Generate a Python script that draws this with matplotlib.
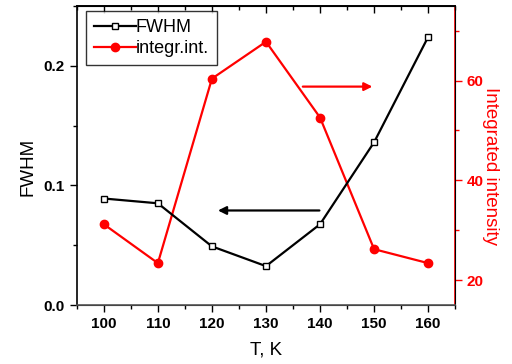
import matplotlib.pyplot as plt
from matplotlib.ticker import MultipleLocator

plt.rcParams['font.family'] = ['Liberation Sans', 'DejaVu Sans']

temps = [100, 110, 120, 130, 140, 150, 160]
fwhm = [0.089, 0.085, 0.049, 0.0325, 0.0675, 0.136, 0.224]
intens = [31.2, 23.4, 60.4, 67.8, 52.6, 26.2, 23.4]

fig = plt.figure(figsize=(5.12, 3.64), dpi=100)
ax = fig.add_axes([0.150, 0.162, 0.739, 0.822])
ax2 = ax.twinx()

l1, = ax.plot(temps, fwhm, color='black', lw=1.6, marker='s', ms=5,
              mfc='white', mec='black', mew=1, label='FWHM', zorder=3)
l2, = ax2.plot(temps, intens, color='red', lw=1.6, marker='o', ms=6,
               mfc='red', mec='red', label='integr.int.')

ax.set_xlim(95, 165)
ax.set_ylim(0, 0.25)
ax2.set_ylim(15, 75)

ax.xaxis.set_major_locator(MultipleLocator(10))
ax.xaxis.set_minor_locator(MultipleLocator(5))
ax.yaxis.set_major_locator(MultipleLocator(0.1))
ax.yaxis.set_minor_locator(MultipleLocator(0.05))
ax2.yaxis.set_major_locator(MultipleLocator(20))
ax2.yaxis.set_minor_locator(MultipleLocator(10))

ax.tick_params(axis='both', which='major', length=5, width=1, labelsize=11)
ax.tick_params(axis='both', which='minor', length=3, width=1)
top = ax.secondary_xaxis('top')
top.xaxis.set_major_locator(MultipleLocator(10))
top.xaxis.set_minor_locator(MultipleLocator(5))
top.tick_params(which='major', direction='in', length=5, width=1, labeltop=False)
top.tick_params(which='minor', direction='in', length=3, width=1)
top.spines['top'].set_linewidth(1.2)
ax.yaxis.set_major_formatter(plt.FormatStrFormatter('%.1f'))

for lab in ax.get_xticklabels() + ax.get_yticklabels():
    lab.set_fontweight('bold')

ax2.tick_params(axis='y', which='major', length=5, width=1, colors='red', labelsize=11)
ax2.tick_params(axis='y', which='minor', length=3, width=1, colors='red')
for lab in ax2.get_yticklabels():
    lab.set_fontweight('bold')
ax2.spines['right'].set_color('red')
ax2.spines['right'].set_linewidth(1.2)
ax2.spines['left'].set_visible(False)

for s in ['left', 'bottom', 'top']:
    ax.spines[s].set_linewidth(1.2)
ax.spines['bottom'].set_color('#555555')

ax.set_xlabel('T, K', fontsize=13.5, labelpad=8)
ax.set_ylabel('FWHM', fontsize=13.5, labelpad=5)
ax2.set_ylabel('Integrated intensity', fontsize=13.5, color='red',
               rotation=270, labelpad=11)
ax.yaxis.label.set_y(0.46)
ax2.yaxis.label.set_y(0.465)

# arrows pointing toward the axis each curve belongs to
ax.annotate('', xy=(120.6, 0.079), xytext=(140.4, 0.079),
            arrowprops=dict(arrowstyle='-|>', color='black', lw=1.6,
                            mutation_scale=12))
ax2.annotate('', xy=(150.2, 58.8), xytext=(136.3, 58.8),
             arrowprops=dict(arrowstyle='-|>', color='red', lw=1.6,
                             mutation_scale=12))

leg = ax.legend([l1, l2], ['FWHM', 'integr.int.'], loc='upper left',
                bbox_to_anchor=(0.025, 0.983), fontsize=13, frameon=True,
                fancybox=False, edgecolor='black', handlelength=2.3,
                handletextpad=0.0, borderpad=0.45, labelspacing=0.22,
                borderaxespad=0)
leg.get_frame().set_linewidth(1)
ax.set_zorder(ax2.get_zorder() + 1)
ax.patch.set_visible(False)

fig.savefig('out.png', dpi=100)
